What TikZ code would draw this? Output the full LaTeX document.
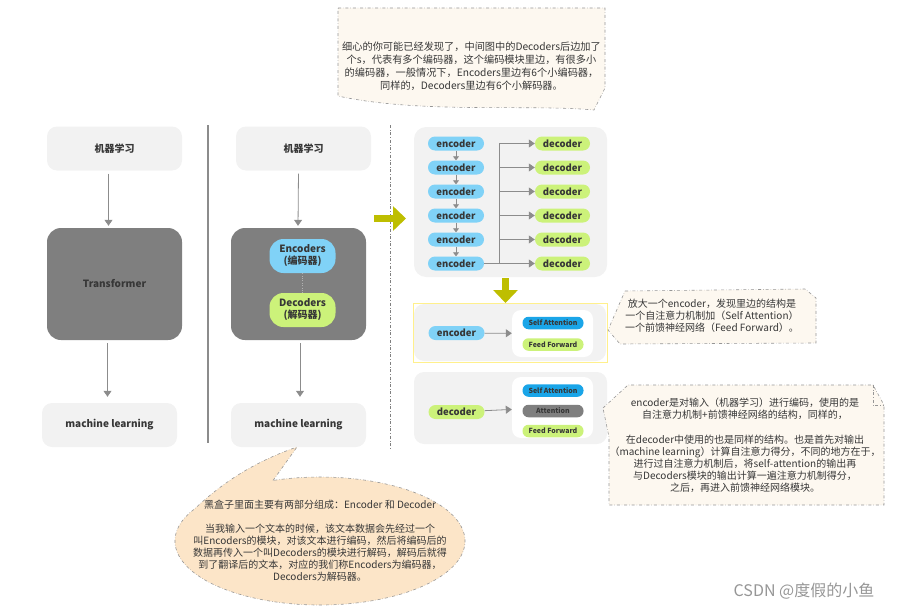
\documentclass[tikz,border=0pt]{standalone}
\usepackage{fontspec}
\setmainfont{Noto Sans CJK SC}
\usetikzlibrary{arrows.meta}
\definecolor{boxgray}{RGB}{242, 242, 242}
\definecolor{blackfill}{RGB}{127, 127, 127}
\definecolor{txtdark}{RGB}{55, 55, 55}
\definecolor{linegray}{RGB}{140, 140, 140}
\definecolor{encblue}{RGB}{128, 210, 247}
\definecolor{decgreen}{RGB}{204, 242, 122}
\definecolor{sablue}{RGB}{26, 165, 232}
\definecolor{yarrowfill}{RGB}{190, 190, 0}
\definecolor{yedge}{RGB}{255, 240, 140}
\definecolor{notefill}{RGB}{253, 248, 240}
\definecolor{bubblefill}{RGB}{252, 229, 200}
\definecolor{noteedge}{RGB}{150, 150, 150}
\definecolor{wmgray}{RGB}{150, 150, 150}
\tikzset{
    lbox/.style={fill=boxgray, rounded corners=10pt, minimum width=135pt,
        minimum height=44pt, inner sep=0pt, text=txtdark,
        font=\bfseries\fontsize{10}{12}\selectfont},
    blackbox/.style={fill=blackfill, rounded corners=14pt, minimum width=135pt,
        minimum height=112pt, inner sep=0pt, text=txtdark,
        font=\bfseries\fontsize{10}{12}\selectfont},
    cbox/.style={rounded corners=14pt, minimum width=66pt, minimum height=34pt,
        inner sep=0pt, align=center, text=txtdark,
        font=\bfseries\fontsize{10}{12}\selectfont},
    pill/.style={rounded corners=7pt, minimum width=56pt, minimum height=14pt,
        inner sep=0pt, text=txtdark, font=\bfseries\fontsize{9.5}{10}\selectfont},
    tinypill/.style={rounded corners=6pt, minimum width=61pt, minimum height=12.5pt,
        inner sep=0pt, text=txtdark, font=\bfseries\fontsize{7}{8}\selectfont},
    innerbox/.style={fill=white, rounded corners=9pt, minimum width=81pt, inner sep=0pt},
    conn/.style={draw=linegray, line width=0.8pt, -{Triangle[length=6pt, width=8pt]}},
    shortconn/.style={draw=linegray, line width=0.8pt, -{Triangle[length=4pt, width=6pt]}},
    yarrow/.style={draw=yarrowfill, line width=7pt, -{Triangle[length=13pt, width=24pt]}},
    note/.style={draw=noteedge, fill=notefill, dash dot, line width=0.6pt},
    bubble/.style={draw=noteedge, fill=bubblefill, dash dot, line width=0.6pt},
    notetext/.style={align=center, text=txtdark, inner sep=0pt},
}

\begin{document}
\begin{tikzpicture}[x=1pt, y=-1pt]
    \useasboundingbox (0,0) rectangle (907,610);
    \node[lbox] (in1) at (114.5,148.5) {机器学习};
    \node[blackbox] (tf) at (114.5,284) {Transformer};
    \node[lbox] (out1) at (109.5,425) {machine learning};
    \draw[conn, shorten <=3pt, shorten >=2pt] ([xshift=-6pt]in1.south) -- ([xshift=-6pt]tf.north);
    \draw[conn, shorten <=3pt, shorten >=6pt] ([xshift=-7pt]tf.south) -- ([xshift=-2pt]out1.north);

    \node[lbox] (in2) at (303.5,148.5) {机器学习};
    \node[blackbox] (bb) at (298.5,284) {};
    \node[cbox, fill=encblue] (encs) at (302.5,256) {Encoders\\(编码器)};
    \node[cbox, fill=decgreen] (decs) at (302.5,310) {Decoders\\(解码器)};
    \draw[dotted, gray!60] (encs) -- (decs);
    \node[lbox] (out2) at (298.5,425) {machine learning};
    \draw[conn, shorten <=3pt, shorten >=2pt] ([xshift=-5pt]in2.south) -- ([xshift=-0.5pt]bb.north);
    \draw[conn, shorten <=3pt, shorten >=6pt] ([xshift=1.5pt]bb.south) -- ([xshift=1.5pt]out2.north);

    \draw[linegray, line width=1.2pt] (208,125) -- (208,443);
    \draw[dash dot, gray] (390,125) -- (390,450);

    \fill[boxgray, rounded corners=12pt] (414,127) rectangle (607,277);
    \foreach \i in {1,...,6} {
        \node[pill, fill=encblue] (enc\i) at (456,119.5+24*\i) {encoder};
        \node[pill, fill=decgreen, minimum width=55pt] (dec\i) at (562.5,119.5+24*\i) {decoder};
    }
    \foreach \i [evaluate=\i as \j using int(\i+1)] in {1,...,5}
        \draw[shortconn] (enc\i) -- (enc\j);
    \coordinate (bus) at (499,143.5);
    \draw[linegray, line width=0.8pt] (enc6.east) -- (bus |- enc6) -- (bus);
    \foreach \i in {1,...,6}
        \draw[conn] (bus |- dec\i) -- (dec\i.west);

    \coordinate (ya) at (374,218.5);
    \coordinate (yb) at (406,218.5);
    \draw[yarrow] (ya) -- (yb);
    \coordinate (yc) at (505.5,278);
    \coordinate (yd) at (505.5,303);
    \draw[yarrow] (yc) -- (yd);

    \fill[boxgray, rounded corners=10pt] (414,304) rectangle (606,361);
    \draw[yedge, line width=1pt] (413,303) rectangle (607,362);
    \node[innerbox, minimum height=47pt] (box1) at (552.5,333.5) {};
    \node[pill, fill=encblue] (encd) at (456.5,333) {encoder};
    \node[tinypill, fill=sablue] (sa1) at (553,323) {Self Attention};
    \node[tinypill, fill=decgreen] (ff1) at (553,344.5) {Feed Forward};
    \draw[conn] (encd) -- (box1);

    \fill[boxgray, rounded corners=10pt] (414,372) rectangle (607,444);
    \node[innerbox, minimum height=61pt] (box2) at (552.5,407.5) {};
    \node[pill, fill=decgreen] (decd) at (456.5,412) {decoder};
    \node[tinypill, fill=sablue] (sa2) at (553,390.5) {Self Attention};
    \node[tinypill, fill=blackfill] (att) at (553,411) {Attention};
    \node[tinypill, fill=decgreen] (ff2) at (553,431) {Feed Forward};
    \draw[conn] (decd) -- (box2);

    \draw[note] (338,8) -- (605,8) -- (605,88) -- (594,110)
        .. controls (530,104) and (420,114) .. (338,96) -- cycle;
    \node[notetext, font=\fontsize{10.2}{13}\selectfont] (topnote) at (471.5,66.5)
        {细心的你可能已经发现了，中间图中的Decoders后边加了\\
         个s，代表有多个编码器，这个编码模块里边，有很多小\\
         的编码器，一般情况下，Encoders里边有6个小编码器，\\
         同样的，Decoders里边有6个小解码器。};

    \draw[note] (625,291) -- (805,289) -- (816,298) -- (816,343)
        -- (620,344) -- (608,330) -- cycle;
    \node[notetext, font=\fontsize{10}{12}\selectfont] (encnote) at (712,316)
        {放大一个encoder，发现里边的结构是\\
         一个自注意力机制加（Self Attention）\\
         一个前馈神经网络（Feed Forward）。};

    \draw[note] (603,408) -- (628,385) -- (873,385) -- (884,405) -- (884,505)
        -- (609,505) -- (609,437) -- cycle;
    \draw[noteedge, dash dot, line width=0.6pt] (873,385) -- (873,405) -- (884,405);
    \node[notetext, font=\fontsize{10}{12.2}\selectfont] (decnote) at (745,445.5)
        {encoder是对输入（机器学习）进行编码，使用的是\\
         自注意力机制+前馈神经网络的结构，同样的，\\[12.2pt]
         在decoder中使用的也是同样的结构。也是首先对输出\\
         （machine learning）计算自注意力得分，不同的地方在于，\\
         进行过自注意力机制后，将self-attention的输出再\\
         与Decoders模块的输出计算一遍注意力机制得分，\\
         之后，再进入前馈神经网络模块。};

    \draw[bubble] (273,480.5) -- (297,447) .. controls (245,465) and (215,490) .. (194.4,509)
        arc[start angle=210, end angle=-109, x radius=145, y radius=64] -- cycle;
    \node[notetext, font=\fontsize{10}{12}\selectfont] (boxnote) at (320,541)
        {黑盒子里面主要有两部分组成：Encoder 和 Decoder\\[12pt]
         当我输入一个文本的时候，该文本数据会先经过一个\\
         叫Encoders的模块，对该文本进行编码，然后将编码后的\\
         数据再传入一个叫Decoders的模块进行解码，解码后就得\\
         到了翻译后的文本，对应的我们称Encoders为编码器，\\
         Decoders为解码器。};

    \node[text=wmgray, font=\fontsize{16}{16}\selectfont] (wm) at (804,591) {CSDN @度假的小鱼};
\end{tikzpicture}
\end{document}
